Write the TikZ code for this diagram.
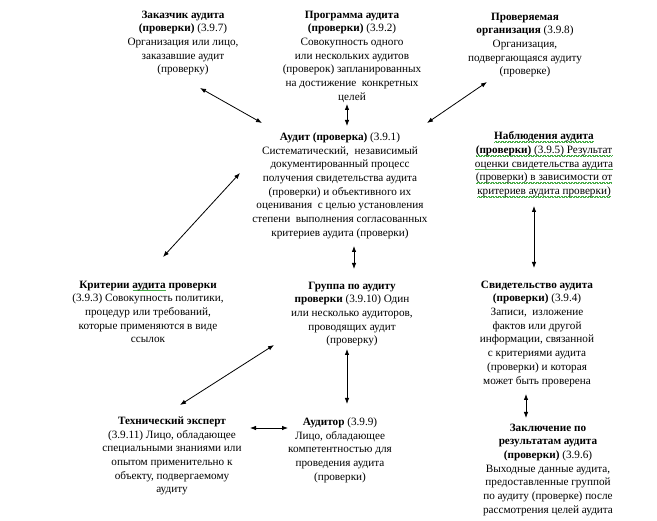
\documentclass[tikz,border=0pt]{standalone}
\usepackage{fontspec}
\setmainfont{Liberation Serif}
\usetikzlibrary{arrows.meta}
\definecolor{gwcol}{RGB}{70,170,70}
\newsavebox\gwbox
\newcommand\gw[1]{\sbox\gwbox{#1}\rlap{\textcolor{gwcol}{\lower2.6pt\hbox to\wd\gwbox{\xleaders\hbox{\vrule width0.7pt height0.5pt depth0pt\raise0.5pt\hbox{\vrule width0.7pt height0.5pt depth0pt}}\hfil}}}\usebox\gwbox}
\begin{document}
\begin{tikzpicture}[x=1pt,y=-1pt,
  txt/.style={align=center,inner sep=0pt,anchor=north,font=\fontsize{11.2}{13.7}\selectfont},
  link/.style={{Latex[length=6pt,width=4.5pt]}-{Latex[length=6pt,width=4.5pt]},line width=0.8pt}]
\fill[white] (0,0) rectangle (657,521);
\useasboundingbox (0,0) rectangle (657,521);

\node[txt] (zak) at (183,10.5) {\textbf{Заказчик аудита}\\\textbf{(проверки)} (3.9.7)\\Организация или лицо,\\заказавшие аудит\\(проверку)};
\node[txt] (prog) at (352,10.5) {\textbf{Программа аудита}\\\textbf{(проверки)} (3.9.2)\\Совокупность одного\\или нескольких аудитов\\(проверок) запланированных\\на достижение\ \ конкретных\\целей};
\node[txt] (org) at (525,12.5) {\textbf{Проверяемая}\\\textbf{организация} (3.9.8)\\Организация,\\подвергающаяся аудиту\\(проверке)};
\node[txt] (audit) at (340,132.5) {\textbf{Аудит (проверка)} (3.9.1)\\Систематический,\ \ независимый\\документированный процесс\\получения свидетельства аудита\\(проверки) и объективного их\\оценивания\ \ с целью установления\\степени\ \ выполнения согласованных\\критериев аудита (проверки)};
\node[txt] (obs) at (544,131.5) {\gw{\textbf{Наблюдения аудита}}\\\gw{\textbf{(проверки)} (3.9.5) Результат}\\\gw{оценки свидетельства аудита}\\\gw{(проверки) в зависимости от}\\\gw{критериев аудита проверки)}};
\node[txt] (crit) at (148,280.5) {\textbf{Критерии \gw{аудита} проверки}\\(3.9.3) Совокупность политики,\\процедур или требований,\\которые применяются в виде\\ссылок};
\node[txt] (grp) at (352,281.5) {\textbf{Группа по аудиту}\\\textbf{проверки} (3.9.10) Один\\или несколько аудиторов,\\проводящих аудит\\(проверку)};
\node[txt] (evid) at (537,280.5) {\textbf{Свидетельство аудита}\\\textbf{(проверки)} (3.9.4)\\Записи,\ \ изложение\\фактов или другой\\информации, связанной\\с критериями аудита\\(проверки) и которая\\может быть проверена};
\node[txt] (concl) at (548,423.5) {\textbf{Заключение по}\\\textbf{результатам аудита}\\\textbf{(проверки)} (3.9.6)\\Выходные данные аудита,\\предоставленные группой\\по аудиту (проверке) после\\рассмотрения целей аудита};
\node[txt] (tech) at (172,416.5) {\textbf{Технический эксперт}\\(3.9.11) Лицо, обладающее\\специальными знаниями или\\опытом применительно к\\объекту, подвергаемому\\аудиту};
\node[txt] (aud) at (340,417.5) {\textbf{Аудитор} (3.9.9)\\Лицо, обладающее\\компетентностью для\\проведения аудита\\(проверки)};

% connector end points
\coordinate (zakE) at (200,88);   \coordinate (auditZ) at (262,123);
\coordinate (progE) at (347,104); \coordinate (auditP) at (347,126);
\coordinate (orgE) at (487,82);   \coordinate (auditO) at (427,123);
\coordinate (critE) at (163,257); \coordinate (auditC) at (240,173);
\coordinate (auditG) at (354,246); \coordinate (grpA) at (354,269);
\coordinate (obsE) at (534,206);  \coordinate (evidO) at (534,268);
\coordinate (grpD) at (347,349);  \coordinate (audG) at (347,404);
\coordinate (grpT) at (274,345);  \coordinate (techG) at (180,405);
\coordinate (techA) at (250,428); \coordinate (audT) at (288,428);
\coordinate (evidC) at (526,394); \coordinate (conclE) at (526,418);

\draw[link] (zakE) -- (auditZ);
\draw[link] (progE) -- (auditP);
\draw[link] (orgE) -- (auditO);
\draw[link] (critE) -- (auditC);
\draw[link] (auditG) -- (grpA);
\draw[link] (obsE) -- (evidO);
\draw[link] (grpD) -- (audG);
\draw[link] (grpT) -- (techG);
\draw[link] (techA) -- (audT);
\draw[link] (evidC) -- (conclE);
\end{tikzpicture}
\end{document}
